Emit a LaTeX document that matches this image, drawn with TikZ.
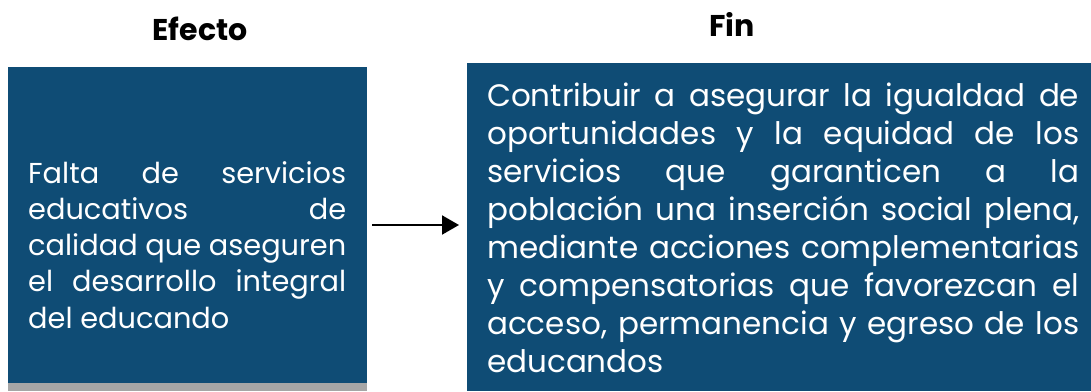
\documentclass[tikz,border=0pt]{standalone}
\usepackage{fontspec}
\setmainfont{Poppins}
\usetikzlibrary{arrows.meta}
\definecolor{boxblue}{RGB}{15,76,117}
\definecolor{shadowgray}{RGB}{166,166,166}
\newcommand\jl[2]{\makebox[#1][s]{#2}\par}
\tikzset{
  bluebox/.style={fill=boxblue, draw=none, inner sep=0pt, outer sep=0pt},
  title/.style={font=\fontsize{30}{36}\selectfont\bfseries, text=black, inner sep=0pt, anchor=base},
  body/.style={text=white, inner sep=0pt, anchor=base west},
  conn/.style={-{Triangle[length=17pt,width=19pt]}, line width=2pt, black}
}
\begin{document}
\begin{tikzpicture}[x=1pt,y=-1pt]
\useasboundingbox (0,0) rectangle (1091,391);
\fill[shadowgray] (8,375) rectangle (367,391);
\node[bluebox, minimum width=359pt, minimum height=316pt, anchor=north west] (left) at (8,67) {};
\node[bluebox, minimum width=624pt, minimum height=328pt, anchor=north west] (right) at (467,63) {};
\node[title] (tleft) at (200,40) {Efecto};
\node[title] (tright) at (732,36) {Fin};
\node[body] (ltext) at (28,183) {\parbox[t]{318pt}{\fontsize{28.8}{36.3}\selectfont
\jl{318pt}{Falta de servicios}
\jl{318pt}{educativos de}
\jl{318pt}{calidad que aseguren}
\jl{318pt}{el desarrollo integral}
del educando}};
\node[body] (rtext) at (487,106) {\parbox[t]{592pt}{\fontsize{31}{38.1}\selectfont
\jl{592pt}{Contribuir a asegurar la igualdad de}
\jl{592pt}{oportunidades y la equidad de los}
\jl{592pt}{servicios que garanticen a la}
\jl{592pt}{población una inserción social plena,}
\jl{592pt}{mediante acciones complementarias}
\jl{592pt}{y compensatorias que favorezcan el}
\jl{592pt}{acceso, permanencia y egreso de los}
educandos}};
\draw[conn, shorten <=5pt, shorten >=8pt] (left.east) -- (left.east -| right.west);
\end{tikzpicture}
\end{document}
